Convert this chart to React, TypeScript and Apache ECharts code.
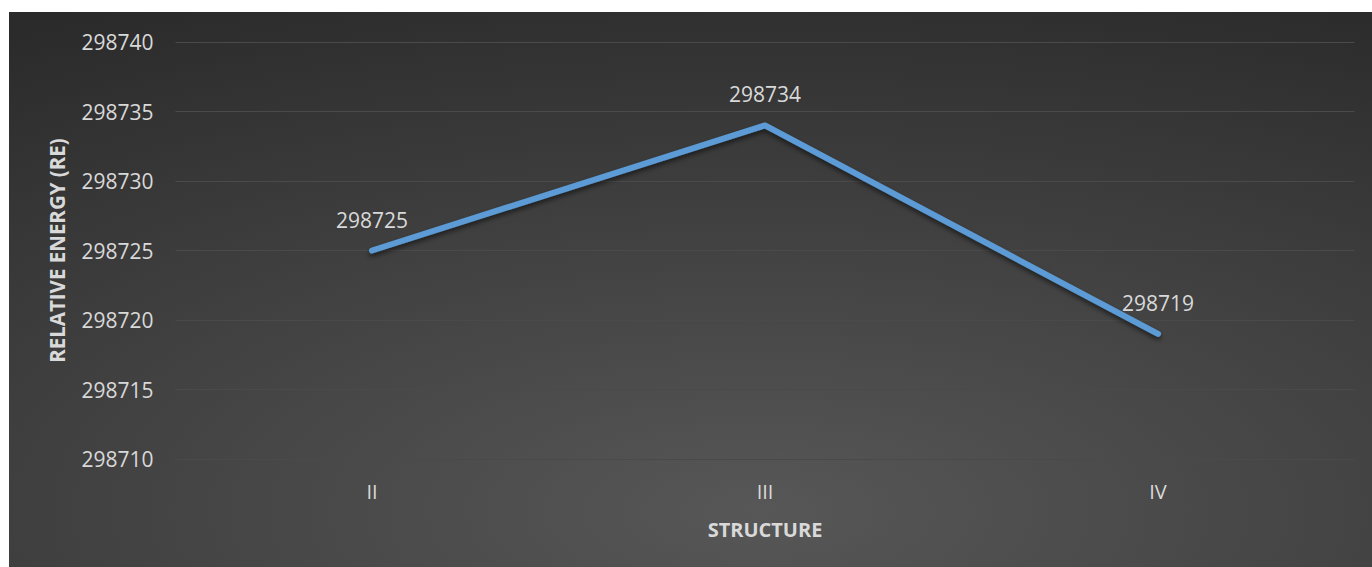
import React, { useEffect, useRef } from "react";
import * as echarts from "echarts";

const categories = ["II", "III", "IV"];
const energyValues = [298725, 298734, 298719];
const yMin = 298710;
const yMax = 298740;
const yStep = 5;

const FONT = "'Open Sans', 'Noto Sans', sans-serif";

export default function App() {
  const ref = useRef<HTMLDivElement>(null);
  useEffect(() => {
    if (!ref.current) return;
    const chart = echarts.init(ref.current, undefined, { renderer: "svg" });
    chart.setOption({
      animation: false,
      backgroundColor: {
        type: "radial",
        x: 0.55,
        y: 0.9,
        r: 1.45,
        colorStops: [
          { offset: 0, color: "#575757" },
          { offset: 0.7, color: "#2b2b2b" },
          { offset: 1, color: "#262626" },
        ],
      },
      grid: { left: 166.5, right: 17.5, top: 30, bottom: 108 },
      xAxis: {
        type: "category",
        data: categories,
        boundaryGap: true,
        axisLine: { show: false },
        axisTick: { show: false },
        axisLabel: { color: "#d9d9d9", fontSize: 20, fontFamily: FONT, margin: 22 },
        name: "STRUCTURE",
        nameLocation: "middle",
        nameGap: 60,
        nameTextStyle: { color: "#d9d9d9", fontSize: 20, fontWeight: "bold", fontFamily: FONT },
      },
      yAxis: {
        type: "value",
        min: yMin,
        max: yMax,
        interval: yStep,
        axisLine: { show: false },
        axisTick: { show: false },
        splitLine: { lineStyle: { color: "#4a4a4a", width: 1 } },
        axisLabel: {
          color: "#d9d9d9",
          fontSize: 21,
          fontFamily: FONT,
          margin: 22,
          formatter: (v: number) => String(v),
        },
        name: "RELATIVE ENERGY (RE)",
        nameLocation: "middle",
        nameGap: 108,
        nameRotate: 90,
        nameTextStyle: { color: "#d9d9d9", fontSize: 20.5, fontWeight: "bold", fontFamily: FONT },
      },
      series: [
        {
          type: "line",
          data: energyValues,
          symbol: "circle",
          symbolSize: 1,
          showSymbol: true,
          itemStyle: { color: "rgba(0,0,0,0)" },
          lineStyle: {
            color: "#5b9bd5",
            width: 6,
            cap: "round",
            join: "round",
            shadowColor: "rgba(0,0,0,0.55)",
            shadowBlur: 5,
            shadowOffsetY: 3,
          },
          label: {
            show: true,
            position: "top",
            distance: 20,
            color: "#d9d9d9",
            fontSize: 21,
            fontFamily: FONT,
            formatter: (p: any) => String(p.value),
          },
        },
      ],
    });
    return () => chart.dispose();
  }, []);
  return (
    <div
      ref={ref}
      style={{ position: "absolute", left: 9, top: 12, width: 1363, height: 555 }}
    />
  );
}
